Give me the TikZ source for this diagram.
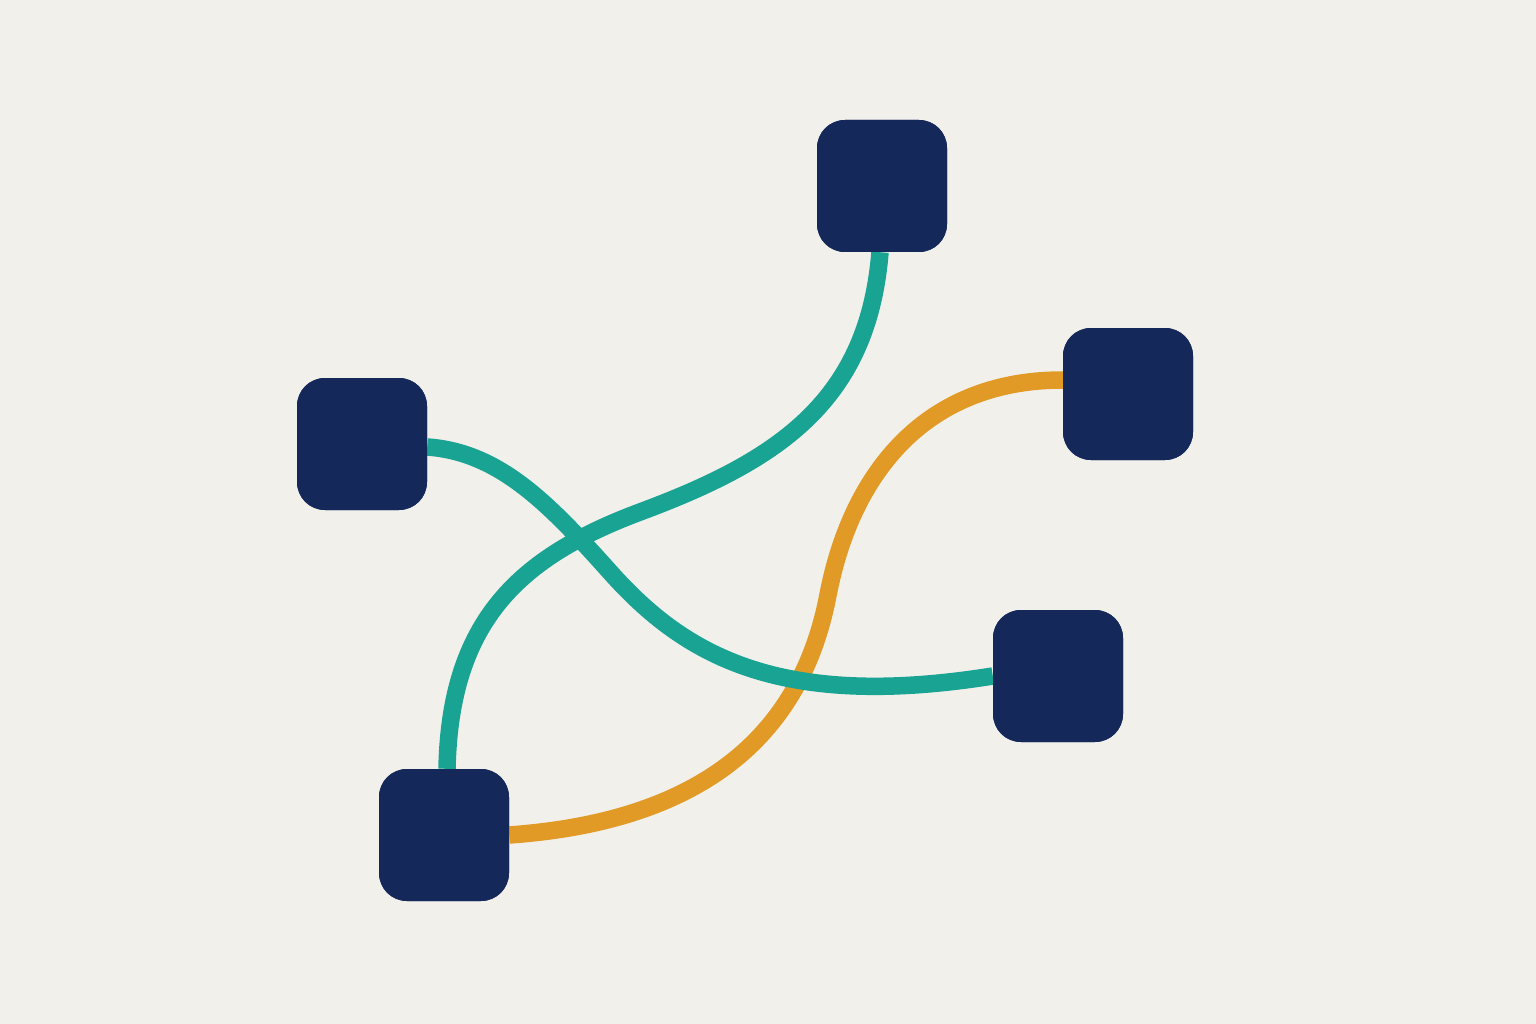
\documentclass[tikz,border=0pt]{standalone}
\definecolor{bgcream}{HTML}{F2F0EB}
\definecolor{boxnavy}{HTML}{14285A}
\definecolor{wireteal}{HTML}{19A393}
\definecolor{wireamber}{HTML}{E09A25}
\tikzset{
  hub/.style={fill=boxnavy, rounded corners=28pt, minimum width=130pt, minimum height=132pt, inner sep=0pt},
  wire/.style={line width=17.5pt}
}
\begin{document}
\begin{tikzpicture}[x=1pt,y=-1pt]
      \fill[bgcream] (0,0) rectangle (1536,1024);
      \useasboundingbox (0,0) rectangle (1536,1024);
      \path
        (882,186) node[hub] (top){}
        (362,444) node[hub] (left){}
        (1128,394) node[hub] (right){}
        (1058,676) node[hub] (lower){}
        (444,835) node[hub] (bottom){};
      \begin{scope}[wire]
        \draw[wireamber] ([yshift=14pt]right.west) .. controls (920,380) and (850,480) .. (828,595)
          .. controls (804,720) and (720,820) .. (bottom.east);
        \draw[wireteal] ([xshift=-2pt]top.south) .. controls (868,400) and (780,460) .. (640,512)
          .. controls (520,557) and (450,620) .. ([xshift=3pt]bottom.north);
        \draw[wireteal] ([yshift=-3pt]left.east) .. controls (500,452) and (550,505) .. (610,572)
          .. controls (685,656) and (780,710) .. (lower.west);
      \end{scope}
      \path
        (882,186) node[hub] {}
        (362,444) node[hub] {}
        (1128,394) node[hub] {}
        (1058,676) node[hub] {}
        (444,835) node[hub] {};
    \end{tikzpicture}
\end{document}
